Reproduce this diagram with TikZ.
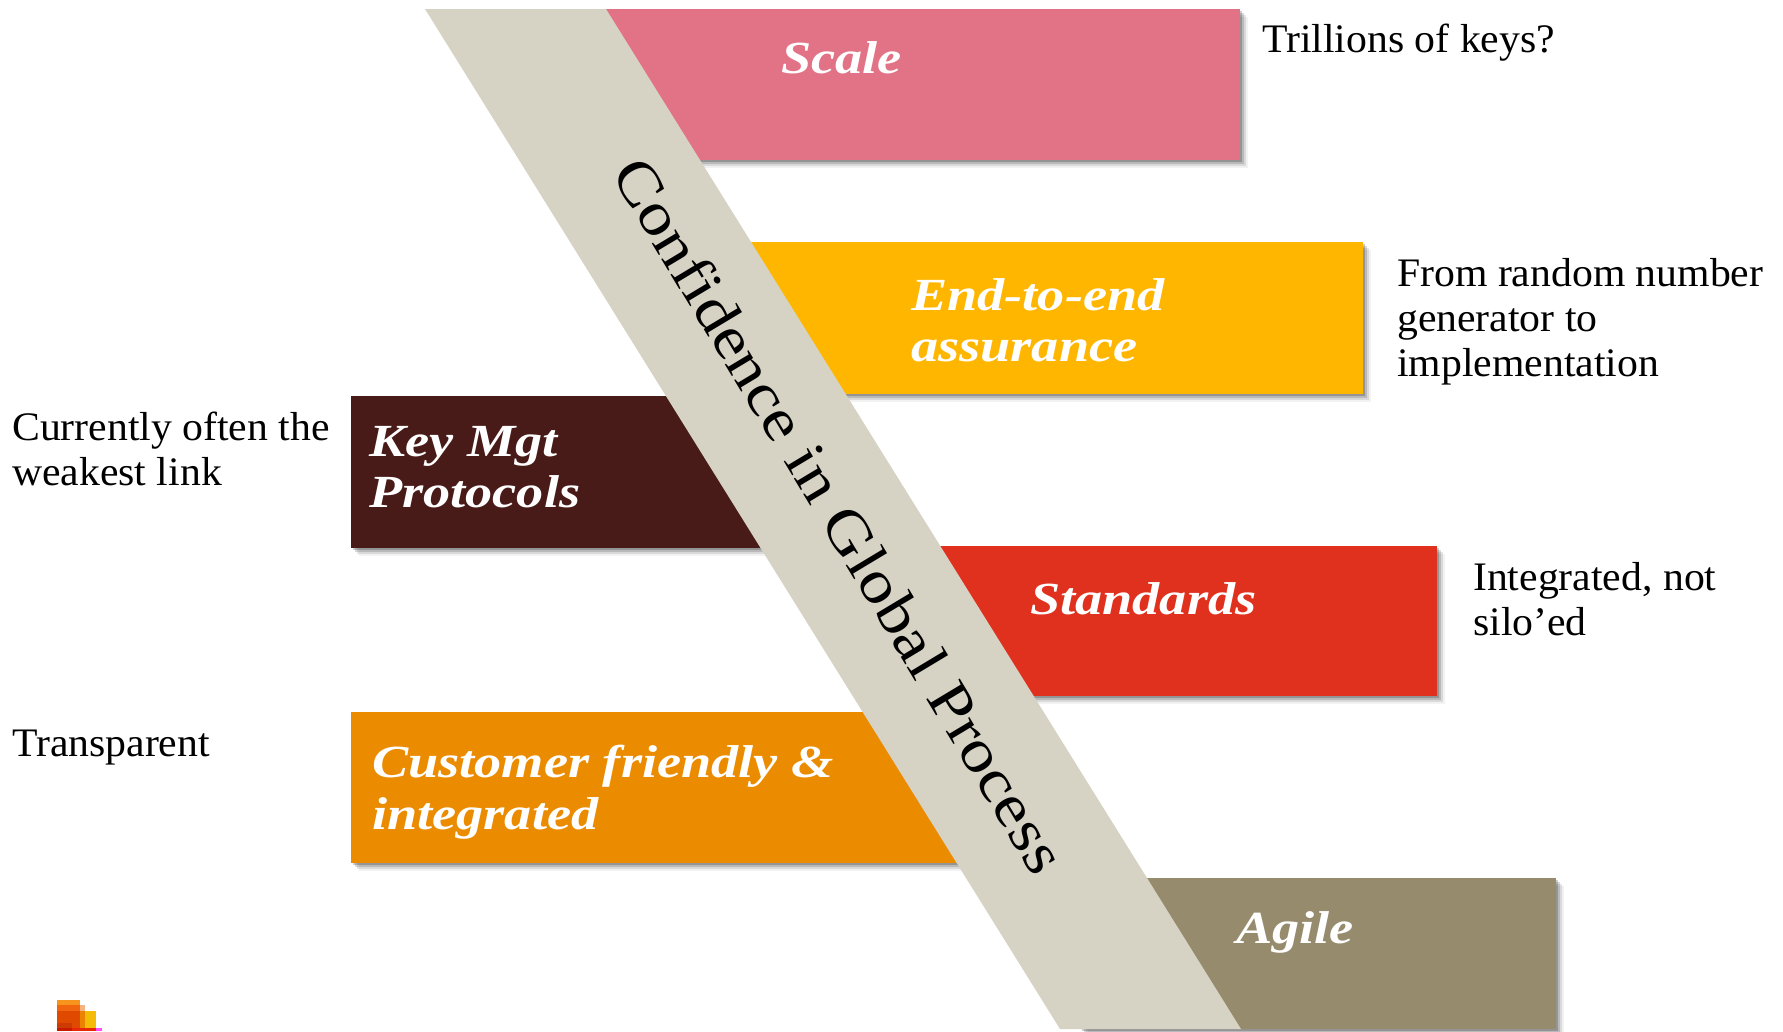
\documentclass[tikz,border=0pt]{standalone}
\usepackage{fontspec}
\setmainfont{Liberation Serif}
\newfontfamily\headfont[FakeStretch=1.18]{Liberation Serif}
\newfontfamily\bandfont[FakeStretch=1.15]{Liberation Serif}
\newfontfamily\notefont[FakeStretch=1.03]{Liberation Serif}
\usetikzlibrary{shadows}
\definecolor{scalecol}{HTML}{E27386}
\definecolor{assurecol}{HTML}{FFB600}
\definecolor{keycol}{HTML}{491B18}
\definecolor{stdcol}{HTML}{E0301E}
\definecolor{custcol}{HTML}{EB8C00}
\definecolor{agilecol}{HTML}{968C6D}
\definecolor{bandcol}{HTML}{D6D2C4}
\definecolor{logotop}{HTML}{F7941D}
\definecolor{logoa}{HTML}{F0650E}
\definecolor{logob}{HTML}{F5B47F}
\definecolor{logoc}{HTML}{E04A00}
\definecolor{logod}{HTML}{E98300}
\definecolor{logoe}{HTML}{F4BC09}
\definecolor{logof}{HTML}{CC3C00}
\definecolor{logog}{HTML}{C81A00}
\definecolor{logoh}{HTML}{E8260A}
\definecolor{logoi}{HTML}{FF4DFF}
\tikzstyle{block} = [rectangle, anchor=north west, inner sep=0pt,
  drop shadow={shadow xshift=8pt, shadow yshift=-8pt, opacity=.05, fill=black},
  drop shadow={shadow xshift=6pt, shadow yshift=-6pt, opacity=.10, fill=black},
  drop shadow={shadow xshift=4pt, shadow yshift=-4pt, opacity=.15, fill=black},
  drop shadow={shadow xshift=2pt, shadow yshift=-2pt, opacity=.20, fill=black}]
\tikzstyle{title} = [anchor=north west, inner sep=0pt, align=left, text=white, font=\headfont\bfseries\itshape\fontsize{46}{51.5}\selectfont]
\tikzstyle{note} = [anchor=north west, inner sep=0pt, align=left, font=\notefont\fontsize{40.5}{45}\selectfont]

\begin{document}
\begin{tikzpicture}[x=1pt, y=-1pt]
        \useasboundingbox (0,0) rectangle (1783,1031);
        % bars behind the band
        \node[block, fill=scalecol, minimum width=680pt, minimum height=151pt] (scale) at (560,9) {};
        \node[block, fill=assurecol, minimum width=663pt, minimum height=152pt] (assure) at (700,242) {};
        \node[block, fill=keycol, minimum width=449pt, minimum height=152pt] (key) at (351,396) {};
        \node[block, fill=stdcol, minimum width=537pt, minimum height=150pt] (std) at (900,546) {};
        \node[block, fill=custcol, minimum width=649pt, minimum height=151pt] (cust) at (351,712) {};
        \node[block, fill=agilecol, minimum width=476pt, minimum height=151pt] (agile) at (1080,878) {};
        % the band
        \fill[bandcol] (425,9) -- (606,9) -- (1241,1029) -- (1060,1029) -- cycle;
        \node[rotate=-59, inner sep=0pt, font=\bandfont\fontsize{60}{64}\selectfont] (band) at (840,515) {Confidence in Global Process};
        % bar titles
        \node[title] (scaletxt) at (781,41) {Scale};
        \node[title] (assuretxt) at (911,278) {End-to-end\\assurance};
        \node[title] (keytxt) at (369,426) {Key Mgt\\Protocols};
        \node[title] (stdtxt) at (1030,582) {Standards};
        \node[title] (custtxt) at (372,745) {Customer friendly \&\\integrated};
        \node[title] (agiletxt) at (1236,911) {Agile};
        % side notes
        \node[note] (scalenote) at (1262,24) {Trillions of keys?};
        \node[note] (assurenote) at (1397,258) {From random number\\generator to\\implementation};
        \node[note] (keynote) at (12,412) {Currently often the\\weakest link};
        \node[note] (stdnote) at (1473,562) {Integrated, not\\silo’ed};
        \node[note] (custnote) at (12,730) {Transparent};
        % logo
        \fill[logotop] (57,1000) rectangle (80,1005);
        \fill[logoa] (57,1005) rectangle (80,1011);
        \fill[logob] (80,1005) rectangle (85,1011);
        \fill[logoc] (57,1011) rectangle (80,1023);
        \fill[logod] (80,1011) rectangle (85,1028);
        \fill[logoe] (85,1011) rectangle (96,1028);
        \fill[logof] (57,1023) rectangle (72,1028);
        \fill[logoc] (72,1023) rectangle (80,1028);
        \fill[logog] (57,1028) rectangle (72,1031);
        \fill[logoh] (72,1028) rectangle (96,1031);
        \fill[logoi] (96,1028) rectangle (102,1031);
    \end{tikzpicture}
\end{document}
